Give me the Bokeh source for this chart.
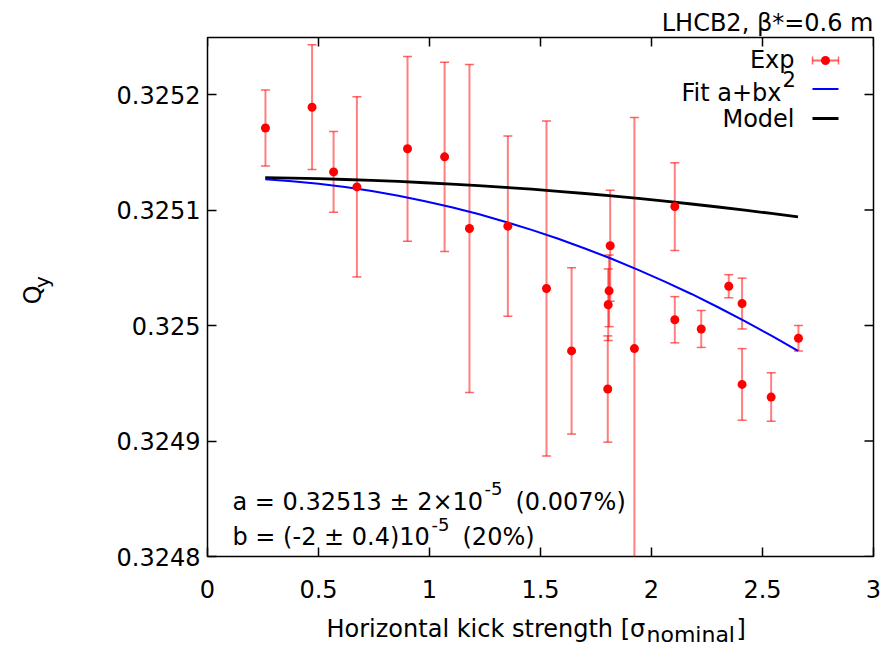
import numpy as np
from bokeh.plotting import figure
from bokeh.layouts import column, row
from bokeh.models import ColumnDataSource, Label, FixedTicker, Range1d
from bokeh.embed import file_html
from bokeh.resources import INLINE

# ---------------- data ----------------
kick = [0.261, 0.471, 0.568, 0.673, 0.901, 1.068, 1.180, 1.353, 1.527, 1.640,
        1.814, 1.809, 1.805, 1.803, 1.923, 2.105, 2.105, 2.224, 2.348, 2.408,
        2.408, 2.539, 2.662]
qy = [0.325171, 0.325189, 0.325133, 0.325120, 0.325153, 0.325146, 0.325084,
      0.325086, 0.325032, 0.324978, 0.325069, 0.325030, 0.325018, 0.324945,
      0.324980, 0.325103, 0.325005, 0.324997, 0.325034, 0.325019, 0.324949,
      0.324938, 0.324989]
qy_err = [0.000033, 0.000054, 0.000035, 0.000078, 0.000080, 0.000082, 0.000142,
          0.000078, 0.000145, 0.000072, 0.000048, 0.000031, 0.000031, 0.000046,
          0.000200, 0.000038, 0.000020, 0.000016, 0.000010, 0.000022, 0.000031,
          0.000021, 0.000011]

curve_x = [0.26, 0.38, 0.50, 0.62, 0.74, 0.86, 0.98, 1.10, 1.22, 1.34, 1.46,
           1.58, 1.70, 1.82, 1.94, 2.06, 2.18, 2.30, 2.42, 2.54, 2.66]
fit_y = [0.3251266, 0.3251249, 0.3251227, 0.3251199, 0.3251164, 0.3251123,
         0.3251076, 0.3251024, 0.3250965, 0.3250899, 0.3250828, 0.3250751,
         0.3250667, 0.3250578, 0.3250482, 0.3250380, 0.3250273, 0.3250158,
         0.3250038, 0.3249912, 0.3249780]
model_y = [0.3251280, 0.3251276, 0.3251271, 0.3251264, 0.3251256, 0.3251247,
           0.3251236, 0.3251224, 0.3251211, 0.3251196, 0.3251180, 0.3251162,
           0.3251143, 0.3251122, 0.3251100, 0.3251077, 0.3251052, 0.3251026,
           0.3250999, 0.3250970, 0.3250940]

x_ticks = [0, 0.5, 1, 1.5, 2, 2.5, 3]
x_tick_labels = ["0", "0.5", "1", "1.5", "2", "2.5", "3"]
y_ticks = [0.3248, 0.3249, 0.325, 0.3251, 0.3252]
y_tick_labels = ["0.3248", "0.3249", "0.325", "0.3251", "0.3252"]

title_text = "LHCB2, \u03b2*=0.6 m"
legend_exp = "Exp"
legend_fit = "Fit a+bx"
legend_model = "Model"
ann1 = ["a = 0.32513 \u00b1 2\u00d710", "-5", "(0.007%)"]
ann2 = ["b = (-2 \u00b1 0.4)10", "-5", "(20%)"]
xlabel = ["Horizontal kick strength [\u03c3", "nominal", "]"]
ylabel = ["Q", "y"]

# ---------------- layout (pixels of the 895x646 page) ----------------
W, H = 895, 646
LW = 60            # width of the strip that holds the y-axis title
MH = 610           # height of the main figure; the x-axis title strip is below
FL, FR, FT, FB = 207, 873, 37, 556
X0, X1 = 0.0, 3.0
Y0 = 0.3248
Y1 = Y0 + (FB - FT) / 1155000.0

FONT = "DejaVu Sans"
FS = "24px"


def dx(px):
    return X0 + (px - FL) / (FR - FL) * (X1 - X0)


def dy(py):
    return Y0 + (FB - py) / (FB - FT) * (Y1 - Y0)


p = figure(width=W - LW, height=MH, x_range=Range1d(X0, X1), y_range=Range1d(Y0, Y1),
           output_backend="svg", toolbar_location=None,
           min_border_left=FL - LW, min_border_right=W - FR,
           min_border_top=FT, min_border_bottom=MH - FB)
p.grid.visible = False
p.background_fill_color = "white"
p.border_fill_color = "white"
p.outline_line_color = "black"
p.outline_line_width = 1.5

p.title.text = title_text
p.title.align = "right"
p.title.text_font = FONT
p.title.text_font_size = FS
p.title.text_font_style = "normal"
p.title.text_color = "black"
p.title.standoff = 1

x_over = {t: s for t, s in zip(x_ticks, x_tick_labels)}
y_over = {t: s for t, s in zip(y_ticks, y_tick_labels)}


def style_axis(ax, ticks, overrides, standoff):
    ax.ticker = FixedTicker(ticks=ticks)
    ax.major_label_overrides = overrides
    ax.major_tick_in = 9
    ax.major_tick_out = 0
    ax.minor_tick_in = 0
    ax.minor_tick_out = 0
    ax.major_tick_line_color = "black"
    ax.major_tick_line_width = 1.5
    ax.axis_line_color = None
    ax.major_label_text_font = FONT
    ax.major_label_text_color = "black"
    ax.major_label_standoff = standoff
    ax.major_label_text_font_size = FS


style_axis(p.xaxis[0], x_ticks, x_over, 23)
style_axis(p.yaxis[0], y_ticks, y_over, 7)

# mirrored inner ticks on the top and right edges
TL = 9
p.segment(x0=x_ticks, y0=[Y1] * len(x_ticks), x1=x_ticks,
          y1=[dy(FT + TL)] * len(x_ticks), line_color="black", line_width=1.5)
p.segment(x0=[X1] * len(y_ticks), y0=y_ticks, x1=[dx(FR - TL)] * len(y_ticks),
          y1=y_ticks, line_color="black", line_width=1.5)

# ---------------- error bars and points ----------------
k = np.array(kick)
q = np.array(qy)
e = np.array(qy_err)
src = ColumnDataSource(dict(x=k, y=q, lo=q - e, hi=q + e))

p.segment(x0="x", y0="lo", x1="x", y1="hi", source=src,
          line_color="red", line_alpha=0.5, line_width=2)
p.scatter(x="x", y="lo", source=src, marker="dash", size=9,
          line_color="red", line_alpha=0.6, line_width=1.5)
p.scatter(x="x", y="hi", source=src, marker="dash", size=9,
          line_color="red", line_alpha=0.6, line_width=1.5)

# ---------------- curves ----------------
p.line(curve_x, model_y, line_color="black", line_width=2.8)
p.line(curve_x, fit_y, line_color="#0000ff", line_width=2)
p.scatter(x="x", y="y", source=src, marker="circle", size=9,
          fill_color="red", line_color=None)


# ---------------- text helpers ----------------
def put(fig, x, y, text, size, align, angle):
    fig.add_layout(Label(x=x, y=y, text=text, text_font=FONT,
                         text_font_size=f"{size}px", text_color="black",
                         text_align=align, text_baseline="alphabetic", angle=angle))


def txt(px, py, text, size=24, align="left"):
    # py is the wanted baseline; the renderer puts the baseline ~0.37em lower
    put(p, dx(px), dy(py - 0.37 * size), text, size, align, 0.0)


# legend (gnuplot style: text right, sample left of it)
txt(794, 68, legend_exp, align="right")
txt(781, 101, legend_fit, align="right")
txt(782, 86, "2", size=21)
txt(794, 127, legend_model, align="right")

ly_exp, ly_fit, ly_mod = 60, 88.5, 118
p.segment(x0=[dx(812)], y0=[dy(ly_exp)], x1=[dx(838)], y1=[dy(ly_exp)],
          line_color="red", line_alpha=0.6, line_width=2)
p.segment(x0=[dx(812), dx(838)], y0=[dy(ly_exp - 4)] * 2,
          x1=[dx(812), dx(838)], y1=[dy(ly_exp + 4)] * 2,
          line_color="red", line_alpha=0.6, line_width=1.5)
p.scatter(x=[dx(825)], y=[dy(ly_exp)], marker="circle", size=9,
          fill_color="red", line_color=None)
p.segment(x0=[dx(812)], y0=[dy(ly_fit)], x1=[dx(838)], y1=[dy(ly_fit)],
          line_color="#0000ff", line_width=2)
p.segment(x0=[dx(812)], y0=[dy(ly_mod)], x1=[dx(838)], y1=[dy(ly_mod)],
          line_color="black", line_width=2.8)

# fit results
txt(232, 510, ann1[0])
txt(484, 495, ann1[1], size=18)
txt(515, 510, ann1[2])
txt(232, 545, ann2[0])
txt(431, 531, ann2[1], size=18)
txt(462, 545, ann2[2])


# ---------------- strips holding the axis titles ----------------
def strip(w, h):
    f = figure(width=w, height=h, x_range=Range1d(0, w), y_range=Range1d(0, h),
               output_backend="svg", toolbar_location=None,
               x_axis_location=None, y_axis_location=None, min_border=0)
    f.grid.visible = False
    f.outline_line_color = None
    f.background_fill_color = "white"
    f.border_fill_color = "white"
    return f


yfig = strip(LW, MH)
# rotated text: baseline shift goes along +x
put(yfig, 41 - 0.37 * 24, MH - 302.5, ylabel[0], 24, "center", np.pi / 2)
put(yfig, 49.3 - 0.37 * 20, MH - 287.5, ylabel[1], 20, "center", np.pi / 2)

XH = H - MH
xfig = strip(W, XH)
put(xfig, 326, H - 637 + 0.37 * 24, xlabel[0], 24, "left", 0.0)
put(xfig, 646, H - 642 + 0.37 * 22, xlabel[1], 22, "left", 0.0)
put(xfig, 736, H - 637 + 0.37 * 24, xlabel[2], 24, "left", 0.0)

layout = column(row(yfig, p, spacing=0), xfig, spacing=0)

open("out.html", "w").write(file_html(layout, INLINE))
